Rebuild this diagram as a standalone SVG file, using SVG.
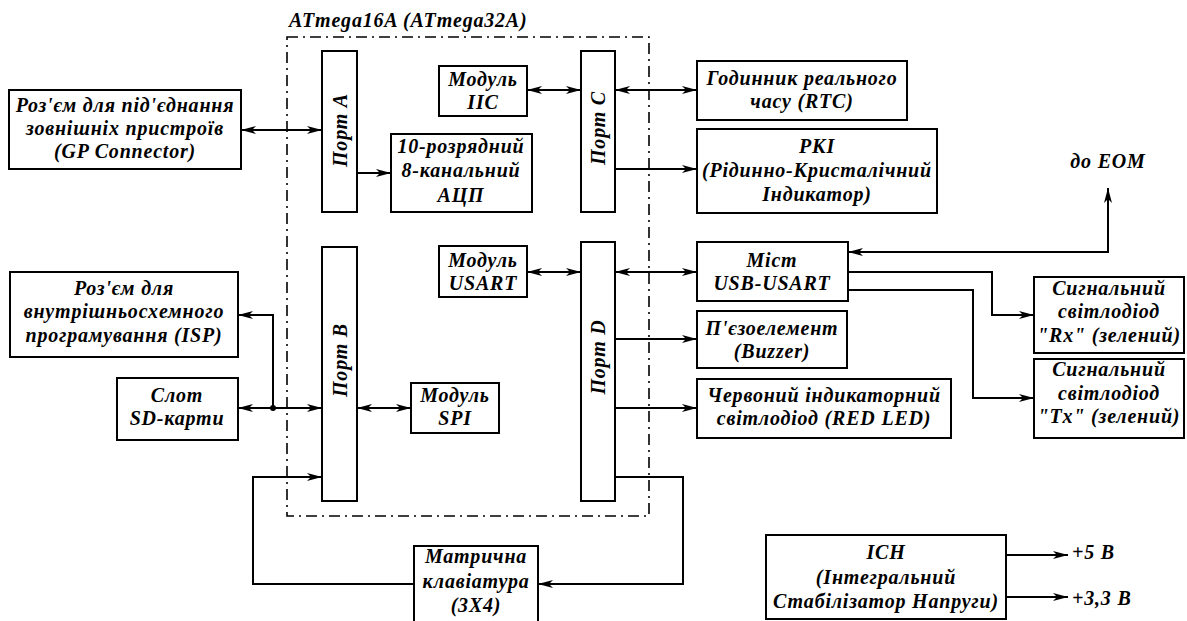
<svg xmlns="http://www.w3.org/2000/svg" width="1187" height="621" viewBox="0 0 1187 621">
<style>
.box{fill:#fff;stroke:#000;stroke-width:2}
.t{font-family:"Liberation Serif","DejaVu Serif",serif;font-weight:bold;font-style:italic;font-size:20px;letter-spacing:0.8px;fill:#000;text-anchor:middle}
.l{text-anchor:start}
.c{fill:none;stroke:#000;stroke-width:2}
.chip{fill:none;stroke:#000;stroke-width:1.6;stroke-dasharray:11 5 2 5}
</style>
<defs>
<marker id="a" markerUnits="userSpaceOnUse" markerWidth="16" markerHeight="10" refX="15" refY="4" orient="auto-start-reverse" viewBox="0 0 16 8">
<path d="M0,0 L15,4 L0,8 L4,4 Z" fill="#000"/>
</marker>
</defs>
<rect width="1187" height="621" fill="#fff"/>
<g id="chip">
<rect class="chip" x="287" y="37" width="362" height="479"/>
<text class="t l" x="289" y="27">ATmega16A (ATmega32A)</text>
</g>
<g id="gp"><rect class="box" x="9" y="90" width="232" height="79"/>
<text class="t" x="125" y="112">Роз'єм для під'єднання</text>
<text class="t" x="125" y="135">зовнішніх пристроїв</text>
<text class="t" x="125" y="158">(GP Connector)</text></g>
<g id="isp"><rect class="box" x="10" y="272" width="228" height="85"/>
<text class="t" x="124" y="295">Роз'єм для</text>
<text class="t" x="124" y="318">внутрішньосхемного</text>
<text class="t" x="124" y="342">програмування (ISP)</text></g>
<g id="sd"><rect class="box" x="117" y="378" width="121" height="62"/>
<text class="t" x="177" y="402">Слот</text>
<text class="t" x="177" y="425">SD-карти</text></g>
<g id="portA"><rect class="box" x="322" y="51" width="35" height="161"/>
<text class="t" transform="translate(347,130) rotate(-90)">Порт A</text></g>
<g id="portB"><rect class="box" x="322" y="247" width="35" height="254"/>
<text class="t" transform="translate(347,360) rotate(-90)">Порт B</text></g>
<g id="portC"><rect class="box" x="581" y="51" width="34" height="161"/>
<text class="t" transform="translate(605,128) rotate(-90)">Порт C</text></g>
<g id="portD"><rect class="box" x="581" y="242" width="34" height="259"/>
<text class="t" transform="translate(605,357) rotate(-90)">Порт D</text></g>
<g id="iic"><rect class="box" x="439" y="66" width="88" height="50"/>
<text class="t" x="483" y="86">Модуль</text>
<text class="t" x="483" y="109">IIC</text></g>
<g id="adc"><rect class="box" x="391" y="134" width="141" height="78"/>
<text class="t" x="461" y="153">10-розрядний</text>
<text class="t" x="461" y="177">8-канальний</text>
<text class="t" x="461" y="202">АЦП</text></g>
<g id="usart"><rect class="box" x="439" y="246" width="88" height="51"/>
<text class="t" x="483" y="267">Модуль</text>
<text class="t" x="483" y="290">USART</text></g>
<g id="spi"><rect class="box" x="411" y="383" width="88" height="50"/>
<text class="t" x="455" y="402">Модуль</text>
<text class="t" x="455" y="425">SPI</text></g>
<g id="rtc"><rect class="box" x="697" y="61" width="210" height="59"/>
<text class="t" x="802" y="85">Годинник реального</text>
<text class="t" x="802" y="108">часу (RTC)</text></g>
<g id="rki"><rect class="box" x="697" y="129" width="240" height="84"/>
<text class="t" x="817" y="153">РКІ</text>
<text class="t" x="817" y="177">(Рідинно-Кристалічний</text>
<text class="t" x="817" y="201">Індикатор)</text></g>
<g id="eom"><text class="t" x="1108" y="168">до ЕОМ</text></g>
<g id="most"><rect class="box" x="697" y="242" width="151" height="59"/>
<text class="t" x="772" y="267">Міст</text>
<text class="t" x="772" y="290">USB-USART</text></g>
<g id="buzzer"><rect class="box" x="697" y="311" width="150" height="57"/>
<text class="t" x="772" y="335">П'єзоелемент</text>
<text class="t" x="772" y="358">(Buzzer)</text></g>
<g id="redled"><rect class="box" x="697" y="379" width="254" height="59"/>
<text class="t" x="824" y="402">Червоний індикаторний</text>
<text class="t" x="824" y="425">світлодіод (RED LED)</text></g>
<g id="rx"><rect class="box" x="1034" y="277" width="150" height="76"/>
<text class="t" x="1109" y="295">Сигнальний</text>
<text class="t" x="1109" y="318">світлодіод</text>
<text class="t" x="1109" y="342">"Rx" (зелений)</text></g>
<g id="tx"><rect class="box" x="1034" y="359" width="150" height="79"/>
<text class="t" x="1109" y="376">Сигнальний</text>
<text class="t" x="1109" y="400">світлодіод</text>
<text class="t" x="1109" y="423">"Tx" (зелений)</text></g>
<g id="keypad"><rect class="box" x="414" y="546" width="124" height="80"/>
<text class="t" x="476" y="563">Матрична</text>
<text class="t" x="476" y="588">клавіатура</text>
<text class="t" x="476" y="612">(3X4)</text></g>
<g id="ich"><rect class="box" x="766" y="535" width="240" height="84"/>
<text class="t" x="886" y="559">ІСН</text>
<text class="t" x="886" y="584">(Інтегральний</text>
<text class="t" x="886" y="608">Стабілізатор Напруги)</text>
<text class="t l" x="1072" y="559">+5 В</text>
<text class="t l" x="1072" y="605">+3,3 В</text></g>
<g id="connectors">
<path class="c" d="M241,130 H322" marker-start="url(#a)" marker-end="url(#a)"/>
<path class="c" d="M357,173 H391" marker-end="url(#a)"/>
<path class="c" d="M527,90 H581" marker-start="url(#a)" marker-end="url(#a)"/>
<path class="c" d="M615,90 H697" marker-start="url(#a)" marker-end="url(#a)"/>
<path class="c" d="M615,169 H697" marker-end="url(#a)"/>
<path class="c" d="M527,272 H581" marker-start="url(#a)" marker-end="url(#a)"/>
<path class="c" d="M615,272 H697" marker-start="url(#a)" marker-end="url(#a)"/>
<path class="c" d="M615,339 H697" marker-end="url(#a)"/>
<path class="c" d="M615,408 H697" marker-end="url(#a)"/>
<path class="c" d="M357,408 H411" marker-start="url(#a)" marker-end="url(#a)"/>
<path class="c" d="M238,408 H322" marker-start="url(#a)" marker-end="url(#a)"/>
<path class="c" d="M273,408 V315 H238" marker-end="url(#a)"/>
<circle cx="273" cy="408" r="3" fill="#000"/>
<path class="c" d="M414,584 H253 V477 H322" marker-end="url(#a)"/>
<path class="c" d="M615,477 H683 V584 H538" marker-end="url(#a)"/>
<path class="c" d="M848,252 H1108 V188" marker-start="url(#a)" marker-end="url(#a)"/>
<path class="c" d="M848,272 H992 V315 H1034" marker-end="url(#a)"/>
<path class="c" d="M848,290 H973 V398 H1034" marker-end="url(#a)"/>
<path class="c" d="M1006,555 H1068" marker-end="url(#a)"/>
<path class="c" d="M1006,597 H1068" marker-end="url(#a)"/>
</g>
</svg>
